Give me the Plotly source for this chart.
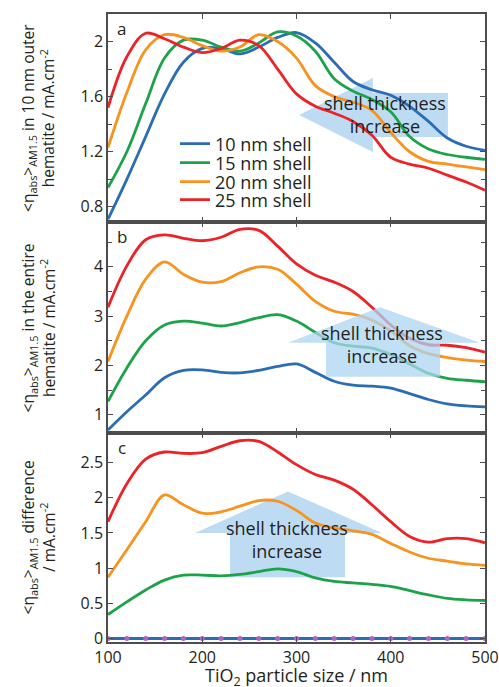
import plotly.graph_objects as go
from plotly.subplots import make_subplots

size_nm = [100, 120, 140, 160, 180, 200, 220, 240, 260, 280, 300,
           320, 340, 360, 380, 400, 420, 440, 460, 480, 500]

shell_labels = ["10 nm shell", "15 nm shell", "20 nm shell", "25 nm shell"]

# panel a: 10 nm outer hematite
a_10 = [0.71, 1.00, 1.31, 1.62, 1.85, 1.95, 1.95, 1.91, 1.96, 2.03, 2.065,
        1.99, 1.85, 1.71, 1.65, 1.61, 1.53, 1.42, 1.30, 1.24, 1.21]
a_15 = [0.94, 1.20, 1.55, 1.88, 2.01, 2.01, 1.96, 1.93, 1.99, 2.07, 2.04,
        1.93, 1.73, 1.64, 1.58, 1.49, 1.31, 1.22, 1.18, 1.16, 1.145]
a_20 = [1.23, 1.63, 1.94, 2.05, 2.03, 1.97, 1.93, 1.96, 2.05, 2.00, 1.88,
        1.68, 1.60, 1.56, 1.50, 1.34, 1.20, 1.13, 1.11, 1.09, 1.07]
a_25 = [1.52, 1.89, 2.06, 2.02, 1.96, 1.92, 1.95, 2.01, 1.97, 1.80, 1.62,
        1.53, 1.48, 1.42, 1.32, 1.16, 1.11, 1.08, 1.03, 0.98, 0.92]

# panel b: entire hematite
b_10 = [0.69, 1.06, 1.40, 1.75, 1.90, 1.91, 1.86, 1.85, 1.90, 1.98, 2.03,
        1.86, 1.68, 1.60, 1.58, 1.54, 1.43, 1.31, 1.22, 1.18, 1.16]
b_15 = [1.27, 1.95, 2.50, 2.82, 2.90, 2.86, 2.80, 2.87, 2.97, 3.03, 2.90,
        2.67, 2.46, 2.39, 2.35, 2.22, 2.03, 1.84, 1.74, 1.70, 1.67]
b_20 = [2.08, 3.00, 3.75, 4.10, 3.85, 3.69, 3.70, 3.88, 4.00, 3.95, 3.65,
        3.30, 3.10, 3.04, 2.92, 2.70, 2.40, 2.24, 2.16, 2.11, 2.08]
b_25 = [3.18, 4.02, 4.55, 4.65, 4.58, 4.53, 4.60, 4.76, 4.74, 4.42, 4.06,
        3.83, 3.69, 3.50, 3.18, 2.82, 2.55, 2.42, 2.41, 2.36, 2.27]

# panel c: difference
c_10 = [0, 0, 0, 0, 0, 0, 0, 0, 0, 0, 0, 0, 0, 0, 0, 0, 0, 0, 0, 0, 0]
c_15 = [0.34, 0.52, 0.69, 0.83, 0.90, 0.90, 0.89, 0.91, 0.95, 0.99, 0.95,
        0.86, 0.81, 0.79, 0.77, 0.74, 0.68, 0.62, 0.57, 0.55, 0.54]
c_20 = [0.87, 1.26, 1.66, 2.04, 1.90, 1.78, 1.80, 1.88, 1.96, 1.95, 1.82,
        1.64, 1.57, 1.53, 1.48, 1.35, 1.23, 1.14, 1.10, 1.06, 1.04]
c_25 = [1.66, 2.20, 2.55, 2.65, 2.63, 2.64, 2.73, 2.81, 2.80, 2.65, 2.47,
        2.33, 2.25, 2.12, 1.90, 1.66, 1.45, 1.37, 1.42, 1.42, 1.36]

colors = ["#2a6db5", "#1ca34a", "#f7931e", "#ec2227"]
TXT = "#231f20"
FONT = "Open Sans"

fig = make_subplots(rows=3, cols=1, shared_xaxes=True, vertical_spacing=0,
                    row_heights=[208, 211, 209])

panels = [[a_10, a_15, a_20, a_25], [b_10, b_15, b_20, b_25], [c_10, c_15, c_20, c_25]]
legends = ["legend", "legend2", "legend3", "legend4"]
for r, series in enumerate(panels, start=1):
    for i, ys in enumerate(series):
        kw = dict(x=size_nm, y=ys, name=shell_labels[i],
                  line=dict(color=colors[i], width=2.8, shape="spline", smoothing=1.0),
                  showlegend=(r == 1))
        if r == 1:
            kw["legend"] = legends[i]
        if r == 3 and i == 0:
            kw["mode"] = "lines+markers"
            kw["marker"] = dict(color="#b063c6", size=5)
        else:
            kw["mode"] = "lines"
        fig.add_trace(go.Scatter(**kw), row=r, col=1)

axis_common = dict(showline=True, linecolor="#4d4d4d", linewidth=1.5, mirror="ticks",
                   ticks="inside", ticklen=5, tickcolor="#4d4d4d", showgrid=False,
                   zeroline=False, automargin=False, ticklabeloverflow="allow",
                   tickfont=dict(family=FONT, size=16, color=TXT))

for r in (1, 2, 3):
    fig.update_xaxes(range=[100, 500], tickvals=[100, 200, 300, 400, 500], row=r, col=1,
                     **axis_common)

fig.update_yaxes(range=[0.69, 2.2], dtick=0.4, tick0=0, row=1, col=1,
                 minor=dict(dtick=0.2, tick0=0, ticks="inside", ticklen=4, tickcolor="#4d4d4d"),
                 **axis_common)
fig.update_yaxes(range=[0.63, 4.91], dtick=1, tick0=0, row=2, col=1,
                 minor=dict(dtick=0.5, tick0=0, ticks="inside", ticklen=4, tickcolor="#4d4d4d"),
                 **axis_common)
fig.update_yaxes(range=[-0.05, 2.92], dtick=0.5, tick0=0, row=3, col=1, **axis_common)

# arrows (annotation graphics)
arrow_fill = "#bddcf3"
shapes = [
    dict(type="path", xref="x", yref="y", layer="below", fillcolor=arrow_fill, line=dict(width=0),
         path="M 302.7 1.467 L 381 1.736 L 381 1.627 L 460.7 1.627 L 460.7 1.307 L 381 1.307 L 381 1.198 Z"),
    dict(type="path", xref="x2", yref="y2", layer="above", fillcolor="rgba(172,212,242,0.75)",
         line=dict(width=0),
         path="M 388.6 3.18 L 494.7 2.46 L 452.3 2.46 L 452.3 1.77 L 331.3 1.77 L 331.3 2.46 L 291 2.46 Z"),
    dict(type="path", xref="x3", yref="y3", layer="below", fillcolor=arrow_fill, line=dict(width=0),
         path="M 291 2.09 L 390.7 1.50 L 351.5 1.50 L 351.5 0.87 L 229.4 0.87 L 229.4 1.50 L 192.3 1.50 Z"),
]

ann = []
for xr, yr, xv, yv in [("x", "y", 393.9, 1.467), ("x2", "y2", 390.7, 2.42), ("x3", "y3", 290, 1.40)]:
    ann.append(dict(xref=xr, yref=yr, x=xv, y=yv, text="shell thickness<br>increase",
                    showarrow=False, font=dict(family=FONT, size=18, color=TXT)))

# panel letters
for yr, lab in [("y domain", "a"), ("y2 domain", "b"), ("y3 domain", "c")]:
    ann.append(dict(xref="x domain", yref=yr, x=0.037, y=0.93, text=lab, showarrow=False,
                    xanchor="center", yanchor="middle",
                    font=dict(family=FONT, size=17, color=TXT)))

ytitles = [
    ("y domain", "&lt;η<sub>abs</sub>&gt;<sub>AM1.5</sub> in 10 nm outer<br>hematite / mA.cm<sup>-2</sup>"),
    ("y2 domain", "&lt;η<sub>abs</sub>&gt;<sub>AM1.5</sub> in the entire<br>hematite / mA.cm<sup>-2</sup>"),
    ("y3 domain", "&lt;η<sub>abs</sub>&gt;<sub>AM1.5</sub> difference<br>/ mA.cm<sup>-2</sup>"),
]
for yr, t in ytitles:
    ann.append(dict(xref="paper", yref=yr, x=-0.186, y=0.5, text=t, textangle=-90,
                    showarrow=False, xanchor="center", yanchor="middle",
                    font=dict(family=FONT, size=15.5, color=TXT)))

# x-axis title
ann.append(dict(xref="paper", yref="paper", x=0.5, y=0, yshift=-34, xanchor="center",
                yanchor="middle", text="TiO<sub>2</sub> particle size / nm", showarrow=False,
                font=dict(family=FONT, size=18, color=TXT)))

layout_legends = {}
leg_y_px = [144, 163, 182, 200]
for name, py in zip(legends, leg_y_px):
    layout_legends[name] = dict(x=(175 - 108) / 377, y=(642 - py) / 628, xanchor="left",
                                yanchor="middle", bgcolor="rgba(0,0,0,0)", borderwidth=0,
                                font=dict(family=FONT, size=18, color=TXT))

fig.update_layout(width=499, height=687, margin=dict(l=108, r=14, t=14, b=45, autoexpand=False),
                  paper_bgcolor="white", plot_bgcolor="white", shapes=shapes,
                  annotations=ann, font=dict(family=FONT, color=TXT),
                  **layout_legends)

fig.write_html("out.html", config={"displayModeBar": False},
               post_script="document.body.style.margin='0';document.body.style.overflow='hidden';")
